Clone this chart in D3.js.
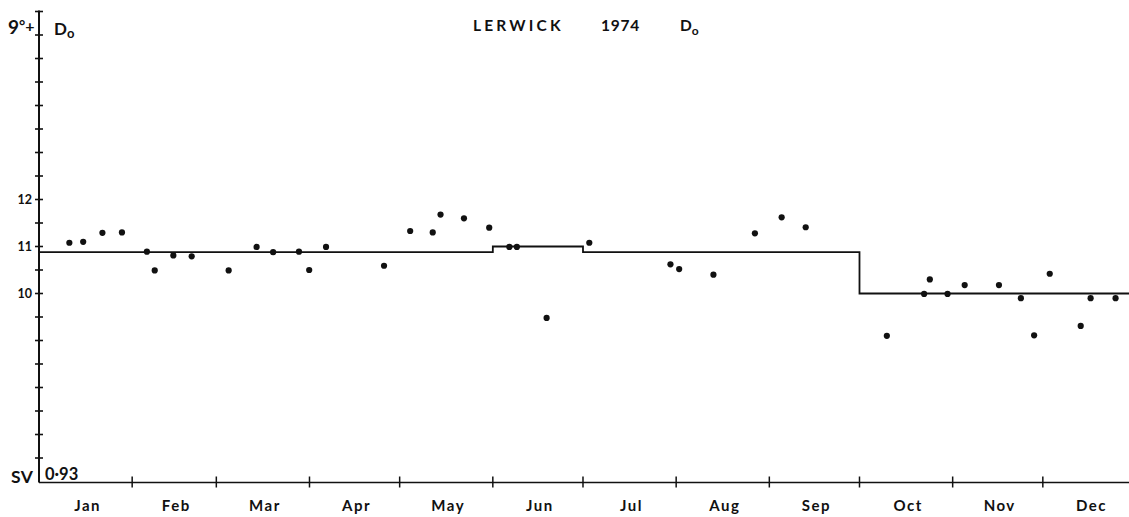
<!DOCTYPE html>
<html>
<head>
<meta charset="utf-8">
<script src="https://cdn.jsdelivr.net/npm/d3@7"></script>
<style>
  html, body { margin: 0; padding: 0; background: #fff; }
  svg { display: block; }
  text { font-family: "Lato", "DejaVu Sans", sans-serif; fill: #111; font-weight: 700; }
</style>
</head>
<body>
<svg id="chart" width="1129" height="517"></svg>
<script>
// Lerwick 1974, declination D0 (9° + minutes of arc), quiet-day values
const monthNames = ["Jan","Feb","Mar","Apr","May","Jun","Jul","Aug","Sep","Oct","Nov","Dec"];
const monthDays  = [31, 28, 31, 30, 31, 30, 31, 31, 30, 31, 30, 31];

// monthly baseline value (stepped line)
const baseline = [10.88, 10.88, 10.88, 10.88, 10.88, 11.0, 10.88, 10.88, 10.88, 10.0, 10.0, 10.0];

// day of year and observed value for each point
const pointDays = [10.1, 14.7, 21.1, 27.6, 35.9, 38.5, 44.7, 50.8, 63.1, 72.4, 77.9, 86.5, 89.9, 95.5,
                   114.8, 123.5, 131, 133.6, 141.4, 149.8, 156.5, 159, 168.9, 183.1, 210.1, 213, 224.4,
                   238.2, 247.1, 255.1, 282.1, 294.5, 296.4, 302.3, 308, 319.4, 326.7, 331.1, 336.3,
                   346.6, 349.9, 358.2];
const pointValues = [11.08, 11.10, 11.29, 11.30, 10.89, 10.49, 10.81, 10.79, 10.49, 10.99, 10.88, 10.89, 10.50, 10.99,
                     10.59, 11.33, 11.30, 11.68, 11.60, 11.40, 10.99, 10.99, 9.48, 11.08, 10.62, 10.52, 10.40,
                     11.28, 11.62, 11.41, 9.10, 9.99, 10.30, 9.99, 10.18, 10.18, 9.90, 9.11, 10.42,
                     9.31, 9.90, 9.90];

const yLabels = [10, 11, 12];

const svg = d3.select("#chart");
const ink = "#111";

const x = d3.scaleLinear().domain([0, 365]).range([39, 1136]);
const y = d3.scaleLinear().domain([6, 16]).range([481.5, 11.5]);

// month boundaries
const bounds = [0];
monthDays.forEach(d => bounds.push(bounds[bounds.length - 1] + d));

// axes
svg.append("line").attr("x1", x(0)).attr("x2", x(0)).attr("y1", y(16) - 1).attr("y2", y(6) + 1)
  .attr("stroke", ink).attr("stroke-width", 2);
svg.append("line").attr("x1", x(0)).attr("x2", x(365)).attr("y1", y(6) + 1).attr("y2", y(6) + 1)
  .attr("stroke", ink).attr("stroke-width", 1.6);

// vertical-axis ticks every half unit
svg.append("g").selectAll("line").data(d3.range(6.5, 16.01, 0.5)).join("line")
  .attr("x1", x(0) - 4).attr("x2", x(0) + 4)
  .attr("y1", d => y(d)).attr("y2", d => y(d))
  .attr("stroke", ink).attr("stroke-width", 1.6);

svg.append("g").selectAll("text").data(yLabels).join("text")
  .attr("x", x(0) - 7).attr("y", d => y(d) + 4.5)
  .attr("text-anchor", "end").attr("font-size", 12.5).attr("font-weight", 400)
  .text(d => d);

// month ticks on the time axis
svg.append("g").selectAll("line").data(bounds.slice(1, 12)).join("line")
  .attr("x1", d => x(d)).attr("x2", d => x(d))
  .attr("y1", y(6) - 5).attr("y2", y(6) + 6)
  .attr("stroke", ink).attr("stroke-width", 1.5);

svg.append("g").selectAll("text").data(monthNames).join("text")
  .attr("x", (d, i) => x((bounds[i] + bounds[i + 1]) / 2) + 2)
  .attr("y", 511)
  .attr("text-anchor", "middle").attr("font-size", 15).attr("letter-spacing", 1.5)
  .text(d => d);

// stepped baseline
const stepPts = [];
baseline.forEach((v, i) => { stepPts.push([bounds[i], v]); stepPts.push([bounds[i + 1], v]); });
svg.append("path")
  .attr("d", d3.line().x(d => x(d[0])).y(d => y(d[1]))(stepPts))
  .attr("fill", "none").attr("stroke", ink).attr("stroke-width", 1.8);

// observed points
svg.append("g").selectAll("circle").data(pointDays).join("circle")
  .attr("cx", d => x(d)).attr("cy", (d, i) => y(pointValues[i]))
  .attr("r", 3.1).attr("fill", ink);

// annotations
const tl = svg.append("text").attr("x", 8).attr("y", 34).attr("font-size", 19).attr("font-weight", 400);
tl.append("tspan").text("9");
tl.append("tspan").attr("dy", -3).attr("font-size", 15).text("°");
tl.append("tspan").attr("dy", 1).attr("font-size", 16).text("+");

const dl = svg.append("text").attr("x", 54).attr("y", 35).attr("font-size", 17);
dl.append("tspan").text("D");
dl.append("tspan").attr("dy", 3).attr("font-size", 13).text("o");

const title = svg.append("text").attr("y", 31).attr("font-size", 15.5);
title.append("tspan").attr("x", 473).attr("letter-spacing", 3.2).text("LERWICK");
title.append("tspan").attr("x", 601).attr("letter-spacing", 0.8).text("1974");
title.append("tspan").attr("x", 680).text("D");
title.append("tspan").attr("dy", 4).attr("font-size", 12).text("o");

svg.append("text").attr("x", 11).attr("y", 483).attr("font-size", 17.5).attr("letter-spacing", 0.5).text("SV");
svg.append("text").attr("x", 45).attr("y", 480).attr("font-size", 16.5).attr("font-weight", 400).text("0·93");
</script>
</body>
</html>
